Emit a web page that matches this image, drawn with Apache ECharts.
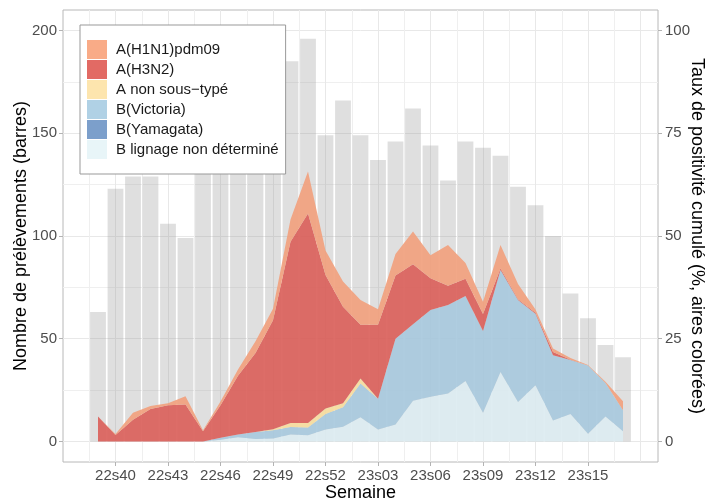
<!DOCTYPE html>
<html><head><meta charset="utf-8">
<script src="https://cdn.jsdelivr.net/npm/echarts@6/dist/echarts.min.js"></script>
<style>html,body{margin:0;padding:0;background:#fff}#c{width:710px;height:500px}</style>
</head><body><div id="c"></div>
<script>
const weeks = ['22s39','22s40','22s41','22s42','22s43','22s44','22s45','22s46','22s47','22s48','22s49','22s50','22s51','22s52',
  '23s01','23s02','23s03','23s04','23s05','23s06','23s07','23s08','23s09','23s10','23s11','23s12','23s13','23s14','23s15','23s16','23s17'];
const prelevements = [63,123,129,129,106,99,136,148,152,165,184,185,196,149,166,149,137,146,162,144,127,146,143,139,124,115,100,72,60,47,41];
const bLignageND  = [0,0,0,0,0,0,0,0.4,1.0,0.6,0.7,1.7,1.5,2.9,3.6,5.9,2.9,4.1,9.9,10.9,11.7,14.7,7.0,16.9,9.6,13.7,5.1,6.7,1.9,6.1,2.5];
const bYamagata   = [0,0,0,0,0,0,0,0,0,0,0,0,0,0,0,0,0,0,0,0,0,0,0,0,0,0,0,0,0,0,0];
const bVictoria   = [0,0,0,0,0,0,0,0.5,0.7,1.7,2.0,1.8,1.9,3.8,4.7,8.2,7.5,20.9,18.6,21.1,21.5,20.7,19.9,24.8,24.8,17.4,15.9,13.1,16.6,8.1,5.1];
const aNonSousType= [0,0,0,0,0,0,0,0,0,0,0.3,1.0,1.1,1.3,1.0,1.2,0,0,0,0,0,0,0,0,0,0,0,0,0,0,0];
const aH3N2       = [6.1,1.6,5.3,7.9,8.8,9.0,2.5,7.9,14.3,19.2,26.5,44.1,51.0,32.5,23.5,13.1,18.0,15.4,14.6,7.7,4.7,4.2,4.1,0.4,0.2,0.2,0.8,0.1,0,0,0];
const aH1N1       = [0,0.2,1.7,0.7,0.5,2.0,0.2,0.9,1.5,2.9,2.8,5.4,10.2,6.0,6.1,6.0,3.8,5.2,8.0,5.6,9.9,3.8,3.0,5.7,3.7,0.8,0.8,0.4,0.1,0.3,2.2];
const tickWeeks = ['22s40','22s43','22s46','22s49','22s52','23s03','23s06','23s09','23s12','23s15'];
const leftTicks = [0,50,100,150,200];
const leftMinor = [25,75,125,175];
const rightTicks = [0,25,50,75,100];
const xMajorGrid = [1,4,7,10,13,16,19,22,25,28,31];
const xMinorGrid = [-0.5,2.5,5.5,8.5,11.5,14.5,17.5,20.5,23.5,26.5,29.5];

// x axis spans two empty week slots on each side of the data
const categories = [' ', '  '].concat(weeks, ['   ', '    ']);
const OFF = 2;
const FONT = 'Liberation Sans';
const layers = [
  {name:'B lignage non déterminé', data:bLignageND, legend:'#E8F5F8', fill:'#DCEBF1'},
  {name:'B(Yamagata)', data:bYamagata, legend:'#7C9FCB', fill:'#7A9CC8'},
  {name:'B(Victoria)', data:bVictoria, legend:'#B0D1E5', fill:'#A8C9DD'},
  {name:'A non sous\u2212typé', data:aNonSousType, legend:'#FDE5AE', fill:'#F6DC9E'},
  {name:'A(H3N2)', data:aH3N2, legend:'#E26A64', fill:'#DA615B'},
  {name:'A(H1N1)pdm09', data:aH1N1, legend:'#F9AB87', fill:'#F1A17E'}
];
const hidden = {axisLine:{show:false, onZero:false}, axisTick:{show:false}, axisLabel:{show:false}};
const showTick = (idx, name) => tickWeeks.indexOf(name) >= 0;
const chart = echarts.init(document.getElementById('c'), null, {renderer:'canvas'});
chart.setOption({
  animation:false,
  backgroundColor:'#fff',
  grid:{left:63, right:52, top:10, bottom:38, show:true, borderColor:'#b8b8b8', borderWidth:1, backgroundColor:'transparent', containLabel:false, outerBoundsMode:'none'},
  legend:{
    orient:'vertical', left:80, top:25, padding:[15,7,15,7], itemWidth:20, itemHeight:19, itemGap:1,
    backgroundColor:'#fff', borderColor:'#999', borderWidth:1, borderRadius:0,
    textStyle:{fontSize:15, color:'#1a1a1a', fontFamily:FONT, padding:[0,0,0,4]},
    data: layers.slice().reverse().map(l => ({name:l.name, icon:'rect', itemStyle:{color:l.legend, borderWidth:0}})),
    selectedMode:false
  },
  xAxis:[
    {type:'category', data:categories, boundaryGap:false, position:'bottom',
     name:'Semaine', nameLocation:'middle', nameGap:22, nameMoveOverlap:false,
     nameTextStyle:{fontSize:18, color:'#000', fontFamily:FONT},
     axisLine:{show:false, onZero:false}, splitLine:{show:false},
     axisTick:{show:true, length:4, interval:showTick, lineStyle:{color:'#b3b3b3'}},
     axisLabel:{interval:showTick, fontSize:15, color:'#4d4d4d', fontFamily:FONT, margin:6}},
    Object.assign({type:'value', min:-2, max:32, position:'bottom'}, hidden,
      {axisTick:{show:false, customValues:xMajorGrid}, splitLine:{show:true, lineStyle:{color:'#e8e8e8', width:1}}}),
    Object.assign({type:'value', min:-2, max:32, position:'bottom'}, hidden,
      {axisTick:{show:false, customValues:xMinorGrid}, splitLine:{show:true, lineStyle:{color:'#efefef', width:1}}})
  ],
  yAxis:[
    {type:'value', min:-10, max:210, position:'left',
     name:'Nombre de prélèvements (barres)', nameLocation:'middle', nameGap:33, nameMoveOverlap:false,
     nameTextStyle:{fontSize:18, color:'#000', fontFamily:FONT},
     axisLine:{show:false, onZero:false},
     axisTick:{show:true, length:4, customValues:leftTicks, lineStyle:{color:'#b3b3b3'}},
     axisLabel:{customValues:leftTicks, fontSize:15, color:'#4d4d4d', fontFamily:FONT, margin:6},
     splitLine:{show:true, lineStyle:{color:'#e8e8e8', width:1}}},
    {type:'value', min:-5, max:105, position:'right',
     name:'Taux de positivité cumulé (%, aires colorées)', nameLocation:'middle', nameRotate:-90, nameGap:30, nameMoveOverlap:false,
     nameTextStyle:{fontSize:18, color:'#000', fontFamily:FONT},
     axisLine:{show:false, onZero:false},
     axisTick:{show:true, length:4, customValues:rightTicks, lineStyle:{color:'#b3b3b3'}},
     axisLabel:{customValues:rightTicks, fontSize:15, color:'#4d4d4d', fontFamily:FONT, margin:7},
     splitLine:{show:false}},
    Object.assign({type:'value', min:-10, max:210, position:'left'}, hidden,
      {axisTick:{show:false, customValues:leftMinor}, splitLine:{show:true, lineStyle:{color:'#efefef', width:1}}})
  ],
  series:[
    {type:'bar', name:'prelevements', xAxisIndex:0, yAxisIndex:0, barWidth:15.8, silent:true, z:1,
     itemStyle:{color:'rgba(150,150,150,0.3)'},
     data: prelevements.map((v,i)=>[i+OFF,v])}
  ].concat(layers.map(l => ({
     type:'line', name:l.name, xAxisIndex:0, yAxisIndex:1, stack:'taux', symbol:'none', silent:true, z:2,
     lineStyle:{width:0}, itemStyle:{color:l.legend},
     areaStyle:{color:l.fill, opacity:0.92},
     data: l.data.map((v,i)=>[i+OFF,v])
  })))
});
</script></body></html>
